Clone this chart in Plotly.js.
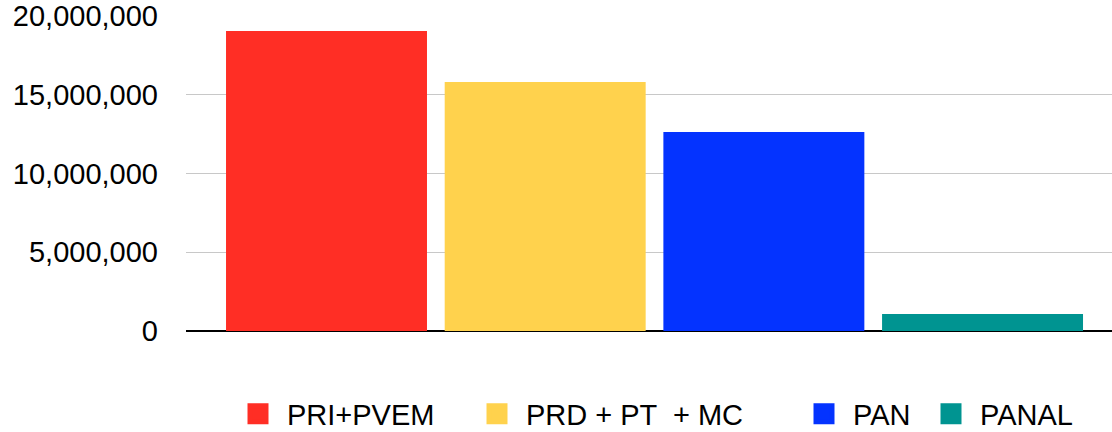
<!DOCTYPE html>
<html>
<head>
<meta charset="utf-8">
<script src="https://cdn.plot.ly/plotly-3.0.1.min.js"></script>
<style>html,body{margin:0;padding:0;background:#fff;}#chart{width:1112px;height:432px;}</style>
</head>
<body>
<div id="chart"></div>
<script>
const parties = ["PRI+PVEM", "PRD + PT \u00A0+ MC", "PAN", "PANAL"];
const votes = [19050000, 15810000, 12630000, 1080000];
const colors = ["#FF2E25", "#FFD24D", "#0433FF", "#009491"];
const yTicks = [0, 5000000, 10000000, 15000000, 20000000];
const legendLeft = [229, 468, 795, 922];

const legendIds = ["legend", "legend2", "legend3", "legend4"];
const traces = [];
parties.forEach((p, i) => {
  traces.push({
    type: "bar", x: [p], y: [votes[i]], name: p,
    marker: {color: colors[i]}, showlegend: false, legendgroup: "g" + i,
    hoverinfo: "x+y"
  });
});
parties.forEach((p, i) => {
  traces.push({
    type: "scatter", mode: "markers", x: [p], y: [null], name: p,
    legendgroup: "g" + i, legend: legendIds[i],
    marker: {symbol: "square", size: 16, color: colors[i], line: {color: colors[i], width: 5}},
    hoverinfo: "skip"
  });
});

const layout = {
  width: 1112, height: 432,
  margin: {l: 186, r: 0, t: 16, b: 101, autoexpand: false},
  paper_bgcolor: "#fff", plot_bgcolor: "#fff",
  font: {family: "Liberation Sans, Arial, Helvetica, sans-serif", size: 29, color: "#000"},
  barmode: "overlay",
  bargap: 0.081,
  showlegend: true,
  xaxis: {type: "category", categoryarray: parties, categoryorder: "array",
          range: [-0.6425, 3.592], showticklabels: false, showgrid: false,
          zeroline: false, showline: false, ticks: "", fixedrange: true},
  yaxis: {range: [0, 20000000], tickvals: yTicks, tickformat: ",",
          showgrid: true, gridcolor: "#c8c8c8", gridwidth: 1,
          zeroline: true, zerolinecolor: "#000", zerolinewidth: 2,
          showline: false, ticks: "", ticklabelstandoff: 27,
          tickfont: {size: 29, color: "#000"}, fixedrange: true}
};
legendIds.forEach((id, i) => {
  layout[id] = {orientation: "h", xref: "container", yref: "container",
    x: legendLeft[i] / 1112, xanchor: "left", y: 18 / 432, yanchor: "middle",
    font: {size: 29, color: "#000"}, itemwidth: 48, bgcolor: "rgba(0,0,0,0)"};
});

Plotly.newPlot("chart", traces, layout, {displayModeBar: false});
</script>
</body>
</html>
